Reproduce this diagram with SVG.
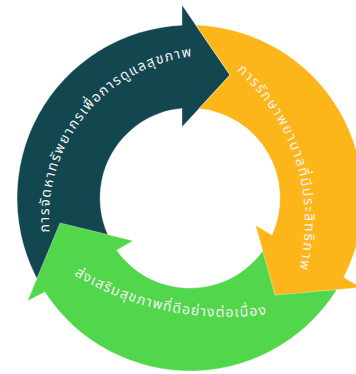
<svg xmlns="http://www.w3.org/2000/svg" xmlns:xlink="http://www.w3.org/1999/xlink" width="356" height="374" viewBox="0 0 356 374">
  <style>
    .seg { stroke: #ffffff; stroke-opacity: 0.45; stroke-width: 0.8; stroke-linejoin: miter; }
    .lbl { font-family: "Noto Sans Thai", "Noto Sans", "Loma", "Garuda", "DejaVu Sans", sans-serif; font-size: 14px; fill: #f2f2f2; }
  </style>
  <defs>
    <path id="p-teal" d="M 49.6 232.2 A 163 163 0 0 1 195 55.9"/>
    <path id="p-orange" d="M 236.8 70.7 A 202 202 0 0 1 299 270.9"/>
    <path id="p-green" d="M 74.1 274.9 A 295 295 0 0 0 269.1 313.8"/>
  </defs>
  <rect width="356" height="374" fill="#ffffff"/>
  <g id="connectors"/>
  <g id="node-teal">
    <path class="seg" fill="#134750" d="M 40.2 284.5 A 173 173 0 0 1 182 25.2 L 182 5 L 230 75 L 182 127 L 182 108.4 A 90 90 0 0 0 112.1 243 Z"/>
    <text class="lbl"><textPath xlink:href="#p-teal" href="#p-teal" textLength="250" lengthAdjust="spacing">การจัดหาทรัพยากรเพื่อการดูแลสุขภาพ</textPath></text>
  </g>
  <g id="node-green">
    <path class="seg" fill="#52D64C" d="M 341.3 281.9 A 173 173 0 0 1 44.8 292 L 27.5 301 L 60 223 L 133.1 240.8 L 116.7 250.3 A 90 90 0 0 0 268.7 241.6 Z"/>
    <text class="lbl"><textPath xlink:href="#p-green" href="#p-green" textLength="200" lengthAdjust="spacing">ส่งเสริมสุขภาพที่ดีอย่างต่อเนื่อง</textPath></text>
  </g>
  <g id="node-orange">
    <path class="seg" fill="#FCB61A" d="M 195.8 25.1 A 173 173 0 0 1 343.7 277.3 L 360.9 287.5 L 275 295 L 255.6 225.3 L 272 235 A 90 90 0 0 0 199.1 108.5 L 230 75 Z"/>
    <text class="lbl"><textPath xlink:href="#p-orange" href="#p-orange" textLength="218" lengthAdjust="spacing">การรักษาพยาบาลที่มีประสิทธิภาพ</textPath></text>
  </g>
</svg>
